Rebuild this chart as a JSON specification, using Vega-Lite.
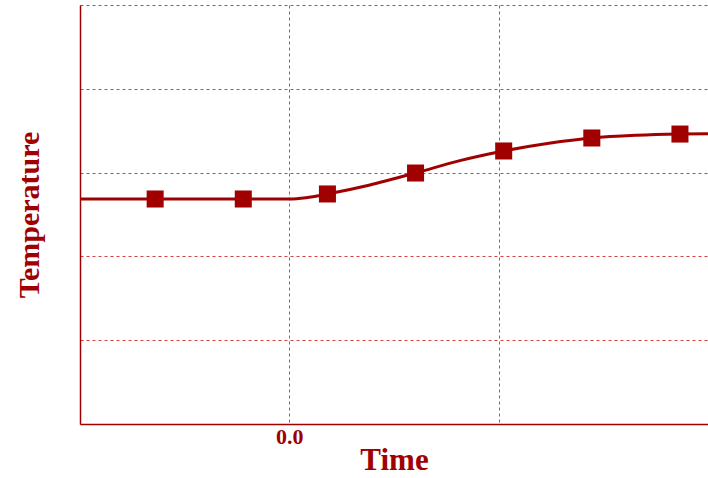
{
  "$schema": "https://vega.github.io/schema/vega-lite/v6.json",
  "width": 628,
  "height": 419,
  "autosize": "none",
  "padding": {"left": 80, "top": 5, "right": 0, "bottom": 54},
  "background": "white",
  "config": {
    "view": {"stroke": null},
    "axis": {
      "gridColor": "#cc2222",
      "gridDash": [3, 3],
      "gridWidth": 1,
      "gridOpacity": 0.85,
      "domainColor": "#a00000",
      "domainWidth": 1.5,
      "ticks": false,
      "labelFont": "Liberation Serif",
      "labelFontWeight": "bold",
      "labelColor": "#a00000",
      "labelFontSize": 22,
      "titleFont": "Liberation Serif",
      "titleFontWeight": "bold",
      "titleColor": "#a00000"
    }
  },
  "datasets": {
    "curve": [
      {"t": -1.0, "temp": 2.685},
      {"t": -0.5, "temp": 2.685},
      {"t": 0.0, "temp": 2.685},
      {"t": 0.08, "temp": 2.7},
      {"t": 0.182, "temp": 2.745},
      {"t": 0.38, "temp": 2.85},
      {"t": 0.603, "temp": 2.995},
      {"t": 0.81, "temp": 3.14},
      {"t": 1.024, "temp": 3.258},
      {"t": 1.24, "temp": 3.35},
      {"t": 1.445, "temp": 3.413},
      {"t": 1.66, "temp": 3.445},
      {"t": 1.866, "temp": 3.46},
      {"t": 2.0, "temp": 3.465}
    ],
    "markers": [
      {"t": -0.641, "temp": 2.685},
      {"t": -0.22, "temp": 2.685},
      {"t": 0.182, "temp": 2.745},
      {"t": 0.603, "temp": 2.995},
      {"t": 1.024, "temp": 3.258},
      {"t": 1.445, "temp": 3.413},
      {"t": 1.866, "temp": 3.46}
    ]
  },
  "encoding": {
    "x": {
      "field": "t", "type": "quantitative",
      "scale": {"domain": [-1, 2], "nice": false, "zero": false},
      "axis": {
        "title": "Time",
        "titleFontSize": 31,
        "values": [-1, 0, 1, 2],
        "labelExpr": "datum.value == 0 ? '0.0' : ''",
        "labelPadding": 2,
        "titlePadding": -2
      }
    },
    "y": {
      "field": "temp", "type": "quantitative",
      "scale": {"domain": [0, 5], "nice": false, "zero": false},
      "axis": {
        "title": "Temperature",
        "titleFontSize": 30,
        "values": [0, 1, 2, 3, 4, 5],
        "labels": false,
        "titlePadding": 36
      }
    }
  },
  "layer": [
    {
      "data": {"name": "curve"},
      "mark": {"type": "line", "interpolate": "monotone", "color": "#a00000", "strokeWidth": 3, "clip": true}
    },
    {
      "data": {"name": "markers"},
      "mark": {"type": "point", "shape": "square", "filled": true, "size": 290, "color": "#a00000", "opacity": 1}
    }
  ]
}
